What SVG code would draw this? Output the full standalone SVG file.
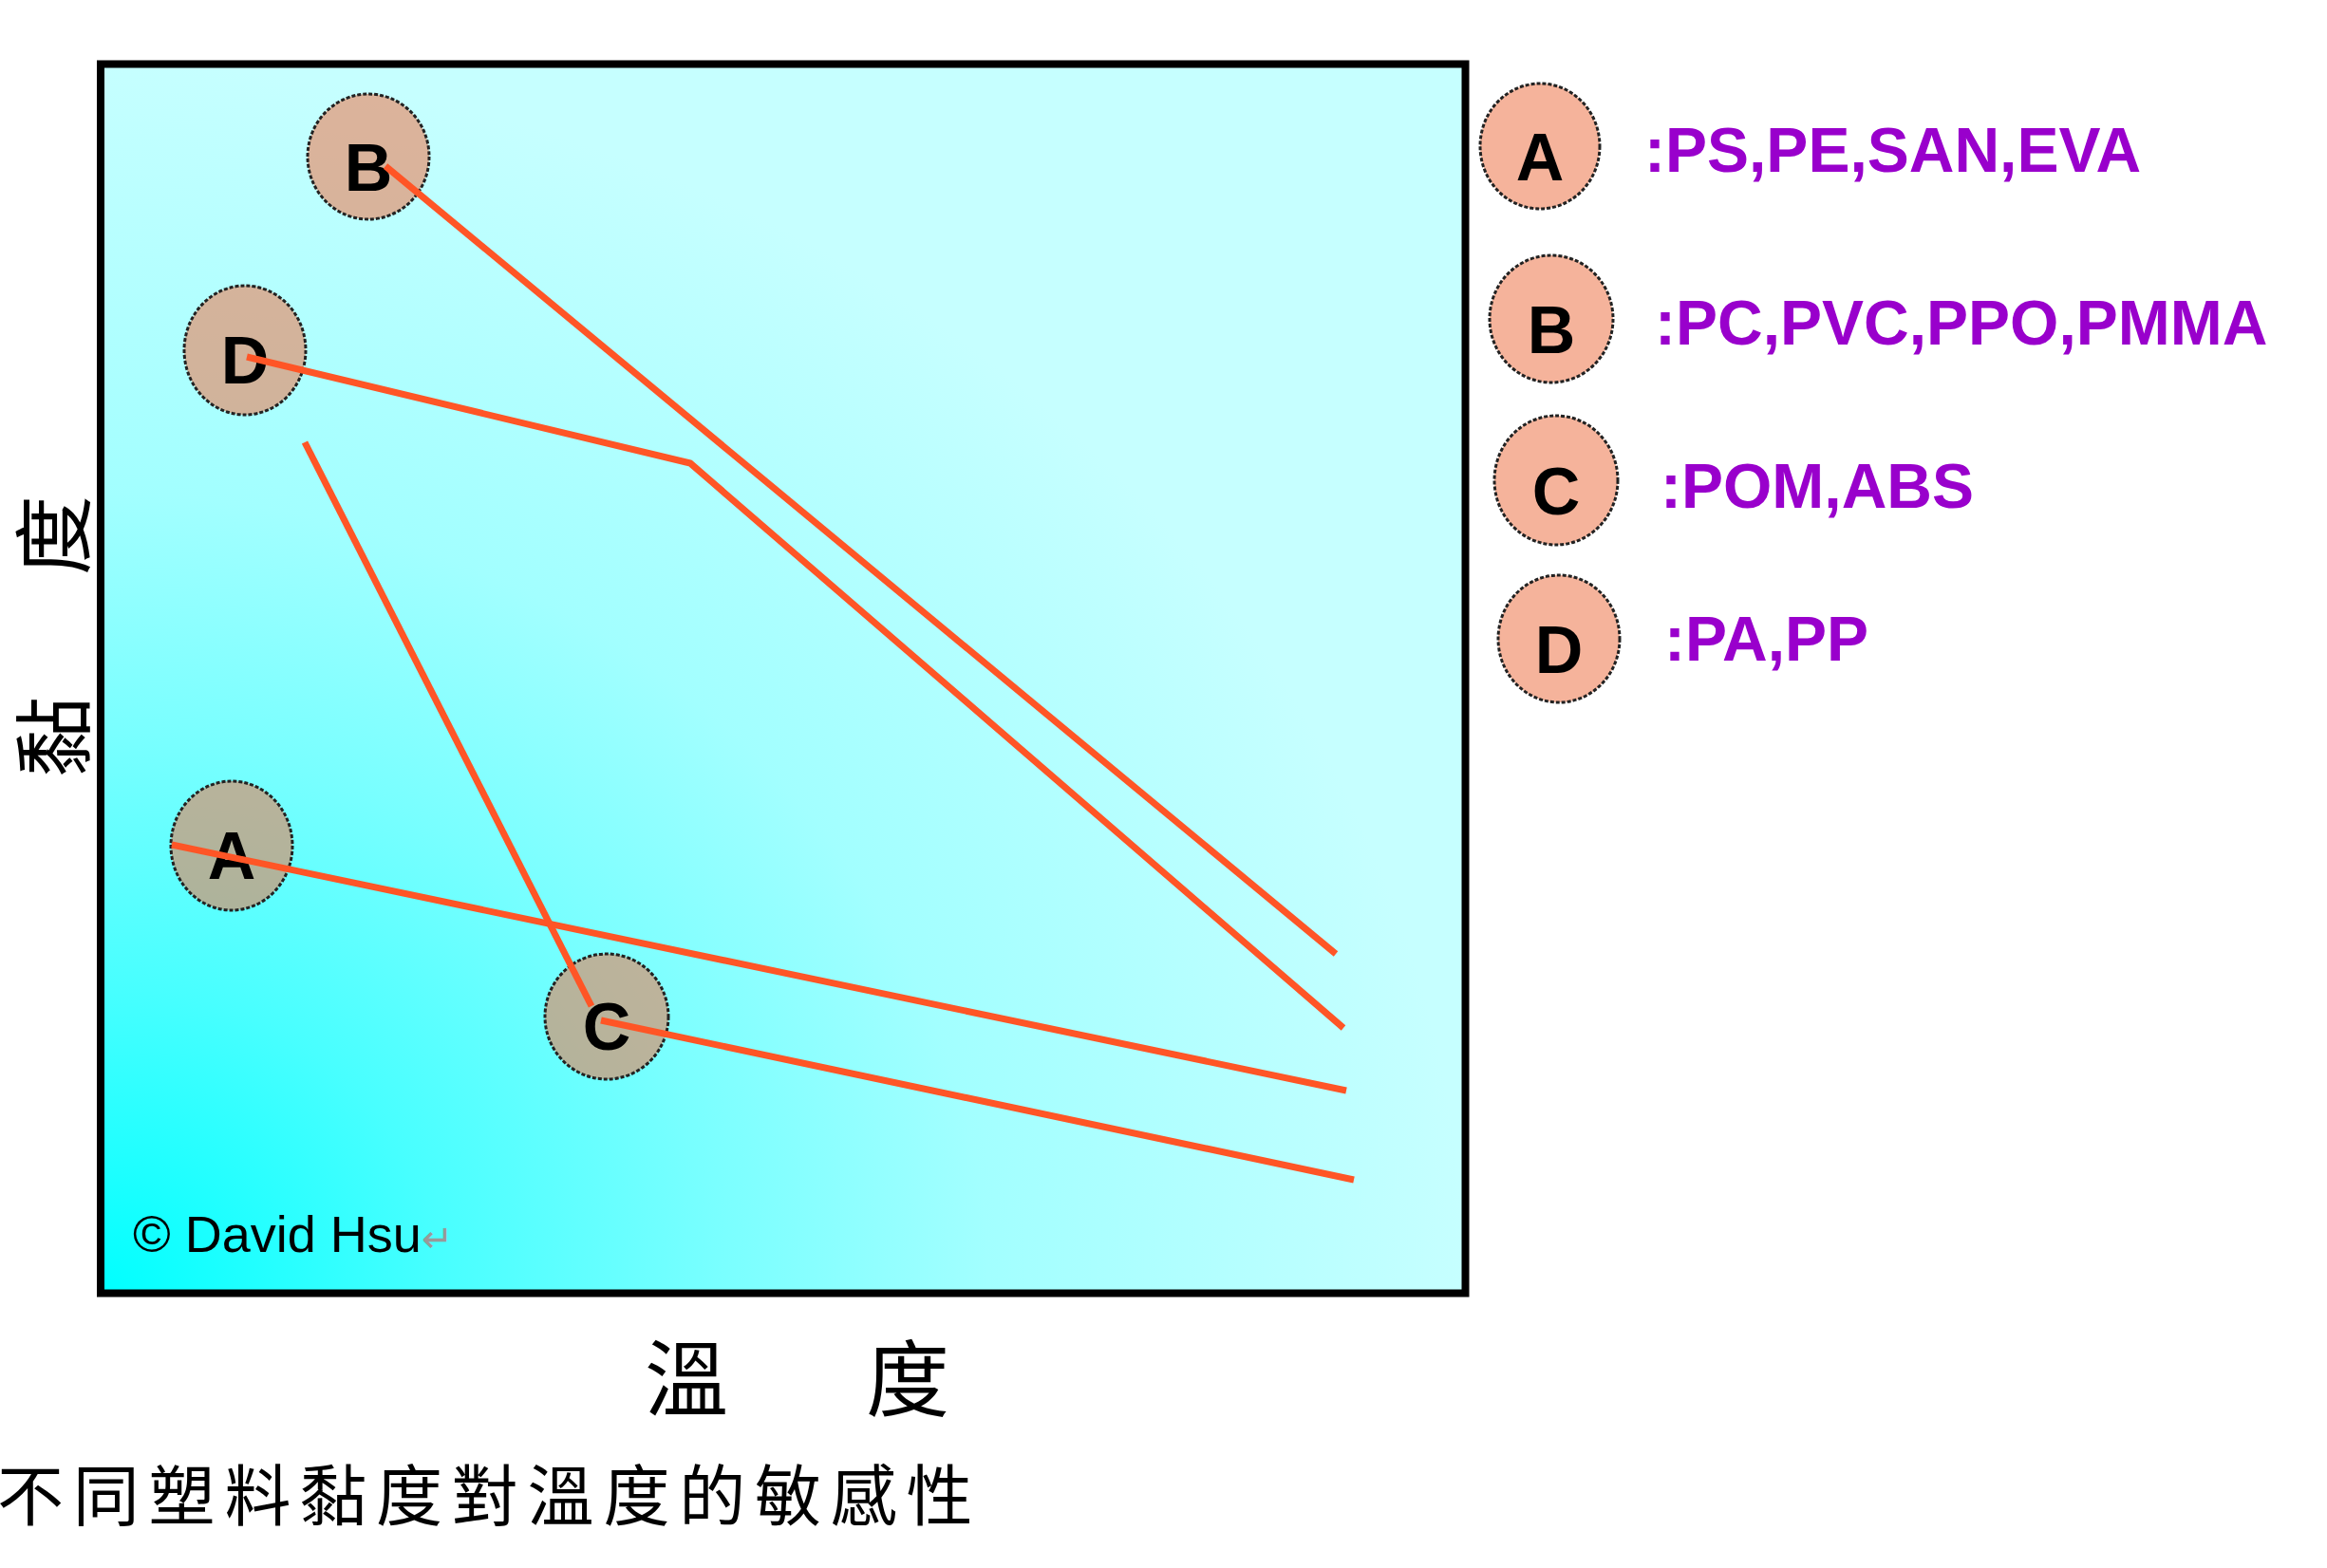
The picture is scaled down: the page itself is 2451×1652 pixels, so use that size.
<svg xmlns="http://www.w3.org/2000/svg" width="2451" height="1652" viewBox="0 0 2451 1652">
<defs>
<radialGradient id="bg" cx="0" cy="1" r="1" gradientUnits="objectBoundingBox">
<stop offset="0" stop-color="#00ffff"/>
<stop offset="0.25" stop-color="#48ffff"/>
<stop offset="0.45" stop-color="#78ffff"/>
<stop offset="0.65" stop-color="#a2ffff"/>
<stop offset="1" stop-color="#c6ffff"/>
</radialGradient>
</defs>
<style>
.node{fill:#ed7a50;fill-opacity:0.57;stroke:#222;stroke-width:3;stroke-dasharray:4 2}
.lbl{font-family:"Liberation Sans",Arial,sans-serif;font-weight:bold;font-size:70px;fill:#000;text-anchor:middle}
.leg{font-family:"Liberation Sans",Arial,sans-serif;font-weight:bold;font-size:66px;fill:#9900cc}
.cjk{font-family:"Noto Sans CJK TC","Noto Sans CJK SC",sans-serif;fill:#000}
.curve{fill:none;stroke:#ff5526;stroke-width:7;stroke-linejoin:round}
</style>
<rect width="2451" height="1652" fill="#ffffff"/>
<g id="chart">
<rect x="106" y="67.5" width="1437.5" height="1295" fill="url(#bg)" stroke="#000" stroke-width="8"/>
</g>
<g id="node-B">
<ellipse class="node" cx="388" cy="165" rx="64" ry="66"/>
<text class="lbl" x="388" y="201">B</text>
</g>
<g id="node-D">
<ellipse class="node" cx="258" cy="369" rx="64" ry="68"/>
<text class="lbl" x="258" y="404">D</text>
</g>
<g id="node-A">
<ellipse class="node" cx="244" cy="891" rx="64" ry="68"/>
<text class="lbl" x="244" y="926">A</text>
</g>
<g id="node-C">
<ellipse class="node" cx="639" cy="1071" rx="65" ry="66"/>
<text class="lbl" x="639" y="1106">C</text>
</g>
<g id="connectors">
<polyline class="curve" points="406,175 1407,1005"/>
<polyline class="curve" points="260,376 727,488 1415,1083"/>
<polyline class="curve" points="181,890 1418,1149"/>
<polyline class="curve" points="321,466 623,1060"/>
<polyline class="curve" points="633,1075 1426,1243"/>
</g>
<g id="legend-A">
<ellipse class="node" cx="1622" cy="154" rx="63" ry="66"/>
<text class="lbl" x="1622" y="190">A</text>
<text class="leg" x="1732" y="181">:PS,PE,SAN,EVA</text>
</g>
<g id="legend-B">
<ellipse class="node" cx="1634" cy="336" rx="65" ry="67"/>
<text class="lbl" x="1634" y="372">B</text>
<text class="leg" x="1743" y="363">:PC,PVC,PPO,PMMA</text>
</g>
<g id="legend-C">
<ellipse class="node" cx="1639" cy="506" rx="65" ry="68"/>
<text class="lbl" x="1639" y="542">C</text>
<text class="leg" x="1749" y="535">:POM,ABS</text>
</g>
<g id="legend-D">
<ellipse class="node" cx="1642" cy="673" rx="64" ry="67"/>
<text class="lbl" x="1642" y="709">D</text>
<text class="leg" x="1753" y="696">:PA,PP</text>
</g>
<g id="copyright">
<text x="140" y="1319" font-family="Liberation Sans,Arial,sans-serif" font-size="54" fill="#000">© David Hsu<tspan font-family="DejaVu Sans,sans-serif" font-size="40" fill="#999999">↵</tspan></text>
</g>
<g id="y-axis-label">
<text class="cjk" font-size="84" transform="translate(88,818) rotate(-90)"><tspan x="0" y="0">黏</tspan><tspan x="212" y="0">度</tspan></text>
</g>
<g id="x-axis-label">
<text class="cjk" font-size="88" y="1485"><tspan x="679">溫</tspan><tspan x="912">度</tspan></text>
</g>
<g id="caption">
<text class="cjk" font-size="70" x="-3" y="1602" letter-spacing="9.8">不同塑料黏度對溫度的敏感性</text>
</g>
</svg>
